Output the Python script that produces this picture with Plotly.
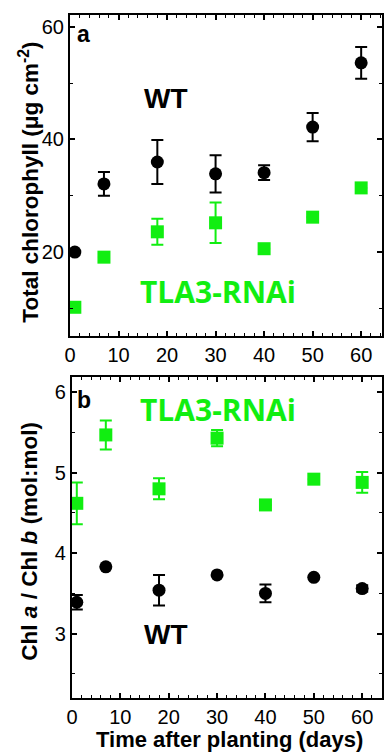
import plotly.graph_objects as go

days = [1, 7, 18, 30, 40, 50, 60]

# Panel a: total chlorophyll (ug cm-2)
wt_chl = [20.0, 32.1, 36.0, 33.9, 34.1, 42.2, 53.6]
wt_chl_err = [0, 2.1, 3.9, 3.3, 1.3, 2.5, 2.8]
tla_chl = [10.2, 19.1, 23.6, 25.2, 20.6, 26.2, 31.4]
tla_chl_err = [0, 0, 2.3, 3.6, 0, 0, 0]

# Panel b: Chl a / Chl b
wt_ratio = [3.39, 3.83, 3.54, 3.73, 3.50, 3.70, 3.56]
wt_ratio_err = [0.09, 0, 0.19, 0, 0.11, 0, 0.04]
tla_ratio = [4.62, 5.47, 4.80, 5.43, 4.60, 4.92, 4.88]
tla_ratio_err = [0.26, 0.18, 0.13, 0.10, 0, 0, 0.13]

GREEN = "#11EE11"
BLACK = "#000000"
FONT = "Liberation Sans, Arial, sans-serif"

fig = go.Figure()

def add(x, y, err, color, symbol, xa, ya):
    fig.add_trace(go.Scatter(
        x=x, y=y, mode="markers", xaxis=xa, yaxis=ya,
        marker=dict(color=color, symbol=symbol, size=13, line=dict(width=0)),
        error_y=dict(type="data", array=err, visible=True, color=color,
                     thickness=2, width=6),
        showlegend=False, cliponaxis=False))

add(days, wt_chl, wt_chl_err, BLACK, "circle", "x", "y")
add(days, tla_chl, tla_chl_err, GREEN, "square", "x", "y")
add(days, wt_ratio, wt_ratio_err, BLACK, "circle", "x2", "y2")
add(days, tla_ratio, tla_ratio_err, GREEN, "square", "x2", "y2")

W, H = 384, 754

def xd(a, b):
    return [a / W, b / W]

def yd(top, bot):
    return [1 - bot / H, 1 - top / H]

axis_common = dict(
    showline=True, linecolor="black", linewidth=2, mirror="allticks",
    ticks="inside", ticklen=5, tickwidth=1.5, tickcolor="black",
    showgrid=False, zeroline=False,
    tickfont=dict(family=FONT, size=20, color="black"),
)

minor_common = dict(ticks="inside", ticklen=3, tickwidth=1.2, tickcolor="black")

fig.update_layout(
    width=W, height=H,
    margin=dict(l=0, r=0, t=0, b=0),
    paper_bgcolor="white", plot_bgcolor="white",
    xaxis=dict(axis_common, domain=xd(65, 382), range=[0, 64.3], anchor="y",
               tickvals=[0, 10, 20, 30, 40, 50, 60],
               minor=dict(minor_common, dtick=2)),
    yaxis=dict(axis_common, domain=yd(15, 336), range=[5.1, 62.1], anchor="x",
               tickvals=[20, 40, 60],
               minor=dict(minor_common, dtick=10)),
    xaxis2=dict(axis_common, domain=xd(67, 382), range=[0, 64.1], anchor="y2",
                tickvals=[0, 10, 20, 30, 40, 50, 60],
                minor=dict(minor_common, dtick=2)),
    yaxis2=dict(axis_common, domain=yd(377, 698), range=[2.2, 6.19], anchor="x2",
                tickvals=[3, 4, 5, 6],
                minor=dict(minor_common, dtick=0.5)),
)

def txt(text, x, y, size, color="black", family=FONT, xanchor="left", angle=0):
    return dict(text=text, x=x / W, y=1 - y / H, xref="paper", yref="paper",
                xanchor=xanchor, yanchor="middle", showarrow=False, textangle=angle,
                font=dict(family=family, size=size, color=color))

OPEN = "Open Sans, sans-serif"
ann = [
    txt("<b>a</b>", 70, 34, 23),
    txt("<b>b</b>", 70, 400, 23),
    txt("<b>WT</b>", 138, 98, 28),
    txt("<b>TLA3-RNAi</b>", 134, 291, 30, GREEN, OPEN),
    txt("<b>TLA3-RNAi</b>", 134, 409, 30, GREEN, OPEN),
    txt("<b>WT</b>", 138, 634, 28),
    txt("<b>Total chlorophyll (μg cm<sup>-2</sup>)</b>", 23, 182, 22.5,
        xanchor="center", angle=-90),
    txt("<b>Chl <i>a</i> / Chl <i>b</i> (mol:mol)</b>", 23, 541, 22.5,
        xanchor="center", angle=-90),
    txt("<b>Time after planting (days)</b>", 227, 739, 22, xanchor="center"),
]
fig.update_layout(annotations=ann)

fig.write_html("out.html", config={"displayModeBar": False},
               post_script="document.body.style.margin='0';document.body.style.overflow='hidden';")
